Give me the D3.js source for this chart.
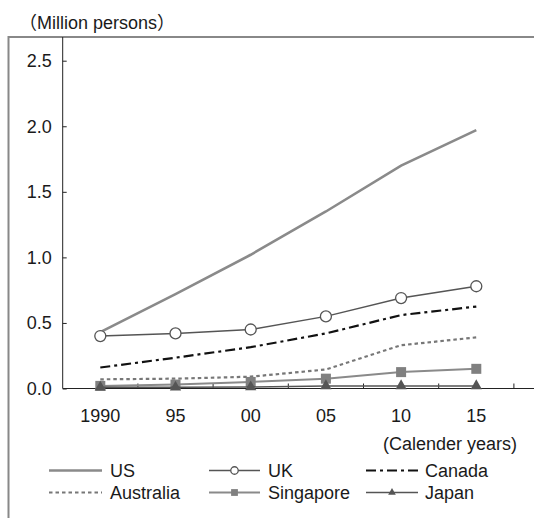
<!DOCTYPE html>
<html><head><meta charset="utf-8">
<script src="https://cdn.jsdelivr.net/npm/d3@7/dist/d3.min.js"></script>
<style>
body{margin:0;background:#fff;}
svg{display:block;font-family:"Liberation Sans","Noto Sans CJK JP",sans-serif;}
</style></head>
<body>
<script>
const years = ["1990","95","00","05","10","15"];
const yTicks = [0,0.5,1.0,1.5,2.0,2.5];
const us = [0.43,0.72,1.02,1.35,1.70,1.97];
const uk = [0.40,0.42,0.45,0.55,0.69,0.78];
const canada = [0.16,0.235,0.315,0.42,0.56,0.625];
const australia = [0.07,0.075,0.09,0.145,0.33,0.39];
const singapore = [0.02,0.03,0.05,0.075,0.125,0.15];
const japan = [0.01,0.01,0.012,0.02,0.02,0.02];

const W=534,H=518;
const svg=d3.select("body").append("svg").attr("width",W).attr("height",H);

const plotLeft=62.7, plotTop=37, plotBottom=388.5;
const x=d3.scaleBand().domain(years.concat([""])).range([plotLeft,plotLeft+7*75.2]);
const xc=d=>x(d)+x.bandwidth()/2;
const y=d3.scaleLinear().domain([0,2.5]).range([plotBottom,60.7]);

// outer frame
svg.append("path").attr("d",`M8.5,${H} V${plotTop} H${W}`).attr("fill","none").attr("stroke","#888").attr("stroke-width",2);
// axes lines
svg.append("line").attr("x1",plotLeft).attr("x2",plotLeft).attr("y1",plotTop).attr("y2",plotBottom).attr("stroke","#222").attr("stroke-width",1);
svg.append("line").attr("x1",plotLeft).attr("x2",W).attr("y1",plotBottom).attr("y2",plotBottom).attr("stroke","#222").attr("stroke-width",1);

const fs=18, tc="#1a1a1a";
// y ticks
const yAxis=svg.append("g").attr("transform",`translate(${plotLeft},0)`)
  .call(d3.axisRight(y).tickValues(yTicks).tickSize(4).tickFormat(d3.format(".1f")));
yAxis.select(".domain").remove();
yAxis.selectAll("line").attr("stroke","#222");
yAxis.selectAll("text").attr("x",-11).attr("text-anchor","end").attr("font-size",fs).attr("fill",tc).attr("font-family","Liberation Sans");

// x ticks at band edges
const edges=years.concat([""]).map(d=>x(d)).slice(1);
svg.append("g").selectAll("line").data(edges).join("line")
  .attr("x1",d=>d).attr("x2",d=>d).attr("y1",plotBottom).attr("y2",plotBottom-5).attr("stroke","#222");
svg.append("g").selectAll("text").data(years).join("text")
  .attr("x",d=>xc(d)).attr("y",422).attr("text-anchor","middle").attr("font-size",fs).attr("fill",tc).text(d=>d);

svg.append("text").attr("x",517).attr("y",450).attr("text-anchor","end").attr("font-size",fs).attr("fill",tc).text("(Calender years)");
svg.append("text").attr("x",19).attr("y",28.5).attr("font-size",fs).attr("fill",tc).text("（Million persons）");

const line=d3.line().x((d,i)=>xc(years[i])).y(d=>y(d));
const series=[
 {name:"US",data:us,stroke:"#8a8a8a",w:2.6,dash:null,marker:null},
 {name:"Canada",data:canada,stroke:"#111",w:2.2,dash:"10,4,3,4",marker:null},
 {name:"Australia",data:australia,stroke:"#777",w:2.2,dash:"3.5,3",marker:null},
 {name:"Singapore",data:singapore,stroke:"#8a8a8a",w:2,dash:null,marker:"square"},
 {name:"Japan",data:japan,stroke:"#555",w:1.5,dash:null,marker:"triangle"},
 {name:"UK",data:uk,stroke:"#555",w:1.5,dash:null,marker:"circle"}
];
function drawMarker(g,type,cx,cy,k){
  if(type==="circle") g.append("circle").attr("cx",cx).attr("cy",cy).attr("r",5.5*k).attr("fill","#fff").attr("stroke","#555").attr("stroke-width",1.3);
  else if(type==="square") g.append("rect").attr("x",cx-5*k).attr("y",cy-5*k).attr("width",10*k).attr("height",10*k).attr("fill","#808080");
  else if(type==="triangle") g.append("path").attr("d",d3.symbol(d3.symbolTriangle,55*k*k)()).attr("transform",`translate(${cx},${cy})`).attr("fill","#555");
}
series.forEach(s=>{
  const g=svg.append("g");
  g.append("path").attr("d",line(s.data)).attr("fill","none").attr("stroke",s.stroke).attr("stroke-width",s.w).attr("stroke-dasharray",s.dash);
  if(s.marker) s.data.forEach((v,i)=>drawMarker(g,s.marker,xc(years[i]),y(v),1));
});

// legend
const legendOrder=["US","UK","Canada","Australia","Singapore","Japan"];
const cols=[[49,102,110],[209,260,268],[366,418,425]];
legendOrder.forEach((n,i)=>{
  const s=series.find(d=>d.name===n);
  const c=cols[i%3], ly= i<3?470.5:492.5;
  const g=svg.append("g");
  g.append("line").attr("x1",c[0]).attr("x2",c[1]).attr("y1",ly).attr("y2",ly).attr("stroke",s.stroke).attr("stroke-width",s.w).attr("stroke-dasharray",s.dash);
  if(s.marker) drawMarker(g,s.marker,(c[0]+c[1])/2,ly,0.68);
  g.append("text").attr("x",c[2]).attr("y",ly+6.5).attr("font-size",fs).attr("fill",tc).text(n);
});
</script>
</body></html>
